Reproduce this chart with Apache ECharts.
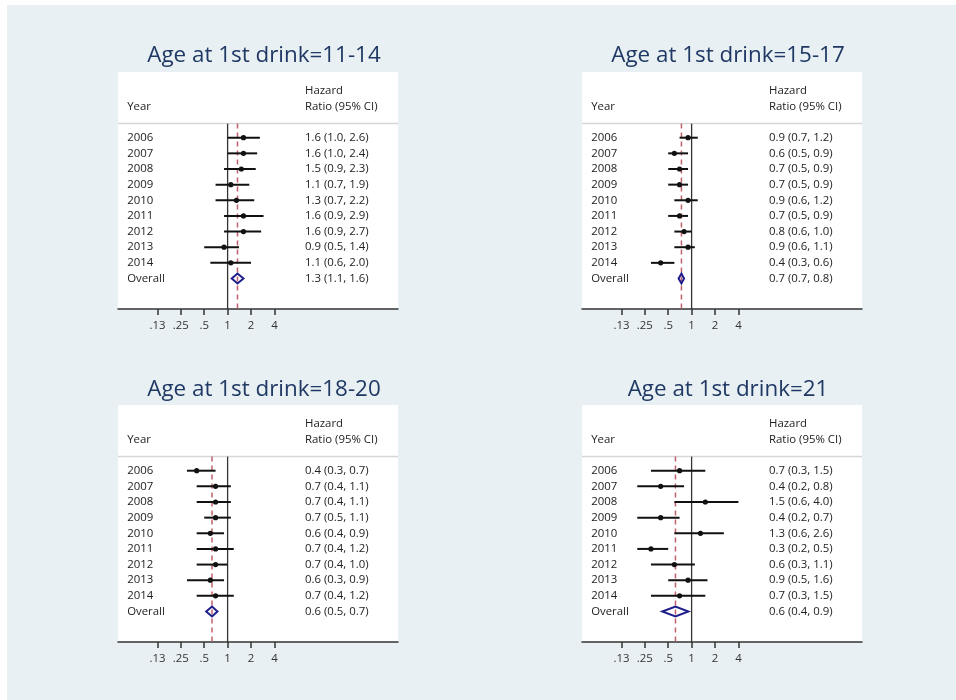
<!DOCTYPE html>
<html><head><meta charset="utf-8">
<script src="https://cdn.jsdelivr.net/npm/echarts@6/dist/echarts.min.js"></script>
<style>html,body{margin:0;padding:0;background:#fff;}#c{width:956px;height:700px;}</style>
</head><body><div id="c"></div>
<script>
const rowLabels = ['2006','2007','2008','2009','2010','2011','2012','2013','2014','Overall'];
const tickVals = [0.125, 0.25, 0.5, 1, 2, 4];
const tickLabels = ['.13', '.25', '.5', '1', '2', '4'];
const titles = ['Age at 1st drink=11-14','Age at 1st drink=15-17','Age at 1st drink=18-20','Age at 1st drink=21'];

const hr1 = [1.6,1.6,1.5,1.1,1.3,1.6,1.6,0.9,1.1,1.34];
const lo1 = [1.0,1.0,0.9,0.7,0.7,0.9,0.9,0.5,0.6,1.13];
const hi1 = [2.6,2.4,2.3,1.9,2.2,2.9,2.7,1.4,2.0,1.6];

const hr2 = [0.9,0.6,0.7,0.7,0.9,0.7,0.8,0.9,0.4,0.74];
const lo2 = [0.7,0.5,0.5,0.5,0.6,0.5,0.6,0.6,0.3,0.68];
const hi2 = [1.2,0.9,0.9,0.9,1.2,0.9,1.0,1.1,0.6,0.80];

const hr3 = [0.4,0.7,0.7,0.7,0.6,0.7,0.7,0.6,0.7,0.63];
const lo3 = [0.3,0.4,0.4,0.5,0.4,0.4,0.4,0.3,0.4,0.53];
const hi3 = [0.7,1.1,1.1,1.1,0.9,1.2,1.0,0.9,1.2,0.74];

const hr4 = [0.7,0.4,1.5,0.4,1.3,0.3,0.6,0.9,0.7,0.62];
const lo4 = [0.3,0.2,0.6,0.2,0.6,0.2,0.3,0.5,0.3,0.42];
const hi4 = [1.5,0.8,4.0,0.7,2.6,0.5,1.1,1.6,1.5,0.91];

const panels = [[hr1,lo1,hi1],[hr2,lo2,hi2],[hr3,lo3,hi3],[hr4,lo4,hi4]];

const FONT = '"Open Sans", sans-serif';
const TXT = '#222';
const FS = 11.4;
const YEAR_X = 0.051, HR_X = 9.9;
const Y_MIN = -4.2, Y_MAX = 10.95, SEP_Y = -0.9;
const gridPos = [
  {left:118, top:72, width:280, height:237},
  {left:582, top:72, width:280, height:237},
  {left:118, top:405, width:280, height:237},
  {left:582, top:405, width:280, height:237}
];
const titlePos = [[259,36],[723,36],[259,370],[723,370]];

const option = {
  backgroundColor: '#fff',
  animation: false,
  graphic: [{type:'rect', left:7, top:5, shape:{width:949, height:695}, style:{fill:'#e8f0f3'}, z:-10, silent:true}],
  title: titles.map((t,i)=>({
    text: t, left: titlePos[i][0], top: titlePos[i][1], textAlign: 'center',
    textStyle: {fontFamily: FONT, fontSize: 22.4, fontWeight: 'normal', color: '#1f3864', lineHeight: 30}
  })),
  grid: gridPos.map(g=>Object.assign({show:true, backgroundColor:'#fff', borderWidth:0}, g)),
  xAxis: gridPos.map((g,i)=>({
    type:'log', logBase:2, gridIndex:i, min:0.0389, max:155.6,
    axisLine:{show:true, onZero:false, lineStyle:{color:'#333', width:1.5}},
    axisTick:{show:true, length:6, lineStyle:{color:'#333', width:1.5}, customValues: tickVals},
    axisLabel:{show:true, margin:11, fontFamily:FONT, fontSize:FS, color:'#333', customValues: tickVals,
      formatter: v => { const k = tickVals.findIndex(t=>Math.abs(t-v)<1e-6); return k>=0 ? tickLabels[k] : ''; }},
    splitLine:{show:false}
  })),
  yAxis: gridPos.map((g,i)=>({
    type:'value', gridIndex:i, inverse:true, min:Y_MIN, max:Y_MAX, show:false
  })),
  series: []
};

panels.forEach((p, pi) => {
  const [hr, lo, hi] = p;
  const ovr = hr[hr.length-1];
  option.series.push({
    type:'custom', xAxisIndex:pi, yAxisIndex:pi, silent:true,
    data:[[ovr, 0]],
    renderItem: (params, api) => {
      const xs = api.coord([0.0389, SEP_Y]), xe = api.coord([155.6, SEP_Y]);
      const one0 = api.coord([1, SEP_Y]), one1 = api.coord([1, Y_MAX]);
      const d0 = api.coord([api.value(0), SEP_Y]), d1 = api.coord([api.value(0), Y_MAX]);
      const yr = api.coord([YEAR_X, -2]);
      const h1 = api.coord([HR_X, -3]);
      const h2 = api.coord([HR_X, -2]);
      const ts = (t,pt)=>({type:'text', style:{text:t, x:pt[0], y:pt[1], fill:TXT, fontFamily:FONT, fontSize:FS, align:'left', verticalAlign:'middle'}});
      return {type:'group', children:[
        {type:'line', shape:{x1:xs[0], y1:xs[1], x2:xe[0], y2:xe[1]}, style:{stroke:'#d6d6d6', lineWidth:1.5}},
        {type:'line', shape:{x1:one0[0], y1:one0[1], x2:one1[0], y2:one1[1]}, style:{stroke:'#333', lineWidth:1.3}},
        {type:'line', shape:{x1:d0[0], y1:d0[1], x2:d1[0], y2:d1[1]}, style:{stroke:'#c0606c', lineWidth:1.5, lineDash:[5,4]}},
        ts('Year', yr), ts('Hazard', h1), ts('Ratio (95% CI)', h2)
      ]};
    }
  });
  option.series.push({
    type:'custom', xAxisIndex:pi, yAxisIndex:pi, silent:true,
    data: rowLabels.map((r,i)=>[hr[i], lo[i], hi[i], i]),
    renderItem: (params, api) => {
      const i = api.value(3);
      const c = api.coord([api.value(0), i]);
      const l = api.coord([api.value(1), i]);
      const h = api.coord([api.value(2), i]);
      const yl = api.coord([YEAR_X, i]);
      const tx = api.coord([HR_X, i]);
      const txt = api.value(0).toFixed(1) + ' (' + api.value(1).toFixed(1) + ', ' + api.value(2).toFixed(1) + ')';
      const children = [
        {type:'text', style:{text:rowLabels[i], x:yl[0], y:yl[1], fill:TXT, fontFamily:FONT, fontSize:FS, align:'left', verticalAlign:'middle'}},
        {type:'text', style:{text:txt, x:tx[0], y:tx[1], fill:TXT, fontFamily:FONT, fontSize:FS, align:'left', verticalAlign:'middle'}}
      ];
      if (i === rowLabels.length-1) {
        children.push({type:'polygon', shape:{points:[[l[0],c[1]],[c[0],c[1]-5],[h[0],c[1]],[c[0],c[1]+5]]},
          style:{fill:'none', stroke:'#1f1f8c', lineWidth:2}});
      } else {
        children.push({type:'line', shape:{x1:l[0], y1:l[1], x2:h[0], y2:h[1]}, style:{stroke:'#111', lineWidth:2}});
        children.push({type:'circle', shape:{cx:c[0], cy:c[1], r:2.6}, style:{fill:'#111'}});
      }
      return {type:'group', children};
    }
  });
});

const chart = echarts.init(document.getElementById('c'), null, {renderer:'canvas'});
chart.setOption(option);
</script>
</body></html>
